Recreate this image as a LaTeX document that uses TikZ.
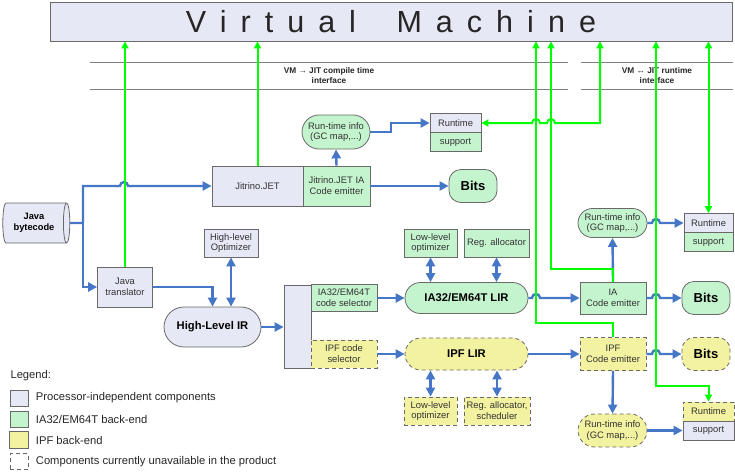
\documentclass[tikz,border=0pt]{standalone}
\usepackage{fontspec}
\setmainfont{Liberation Sans}
\usetikzlibrary{arrows.meta,shapes.geometric,shapes.misc,positioning}

\definecolor{pindep}{RGB}{230,232,245}
\definecolor{iaback}{RGB}{196,244,206}
\definecolor{ipfback}{RGB}{242,242,160}
\definecolor{edgegray}{RGB}{105,105,105}
\definecolor{flowblue}{RGB}{70,118,198}
\definecolor{vmgreen}{RGB}{0,255,0}

\tikzset{
    unit/.style={draw=edgegray, line width=0.8pt, inner sep=1pt, align=center,
        font=\fontsize{9.4}{10.8}\selectfont, text=black!80},
    wh/.style 2 args={minimum width=#1pt, minimum height=#2pt},
    indep/.style={unit, fill=pindep},
    iaunit/.style={unit, fill=iaback},
    ipfunit/.style={unit, fill=ipfback, dash pattern=on 4pt off 3pt},
    pill/.style={rounded rectangle},
    bigtext/.style={font=\fontsize{11.2}{13}\selectfont\bfseries, text=black},
    bitstext/.style={font=\fontsize{13}{15}\selectfont\bfseries, text=black, rounded corners=12pt},
    flow/.style={draw=flowblue, line width=2.4pt, -{Triangle[length=9pt,width=9pt]}},
    twoway/.style={flow, {Triangle[length=9pt,width=9pt]}-{Triangle[length=9pt,width=9pt]}},
    vmlink/.style={draw=vmgreen, line width=2pt, -{Triangle[length=7pt,width=7pt]}},
    vmboth/.style={vmlink, {Triangle[length=7pt,width=7pt]}-{Triangle[length=7pt,width=7pt]}},
    iface/.style={draw=gray, line width=0.8pt},
    ifacetext/.style={font=\fontsize{8.3}{10}\selectfont\bfseries, align=center, text=black!85},
    legtext/.style={font=\fontsize{11.2}{13}\selectfont, text=black!85},
}

\begin{document}
\begin{tikzpicture}[x=1pt, y=-1pt]
    \useasboundingbox (0,0) rectangle (735,471);

    % virtual machine and the two interfaces
    \node[indep, wh={682}{39}, text=black!85,
        font=\fontsize{30.5}{32}\selectfont\addfontfeatures{LetterSpace=46}] (vm) at (391,21.5) {Virtual\hspace{18pt} Machine};
    \draw[iface] (90,62) -- (568,62);
    \draw[iface] (90,89) -- (568,89);
    \draw[iface] (581,62) -- (733,62);
    \draw[iface] (581,89) -- (733,89);
    \node[ifacetext] (compiletime) at (329,75.5) {VM → JIT compile time\\interface};
    \node[ifacetext] (runtimeif) at (657,75.5) {VM ↔ JIT runtime\\interface};

    % front end
    \node[cylinder, draw=edgegray, line width=0.8pt, fill=pindep, aspect=0.3, shape border rotate=0,
        minimum width=40pt, minimum height=67pt, align=center, inner sep=1pt,
        font=\fontsize{9.3}{11}\selectfont\bfseries] (bytecode) at (34,223) {Java\\bytecode};
    \node[indep, wh={55}{40}] (jtrans) at (125,287) {Java\\translator};
    \node[indep, wh={54}{28}] (hlopt) at (231,243) {High-level\\Optimizer};
    \node[indep, pill, bigtext, wh={99}{40}] (hlir) at (212.5,327) {High-Level IR};

    % Jitrino.JET
    \node[indep, wh={91}{40}] (jet) at (257.5,186) {Jitrino.JET};
    \node[iaunit, wh={67}{40}] (jetemit) at (336.5,186) {Jitrino.JET IA\\Code emitter};
    \node[iaunit, pill, wh={70}{34}] (jetinfo) at (336,132) {Run-time info\\(GC map,...)};
    \node[indep, wh={51}{19}] (jetrt) at (455.5,123) {Runtime};
    \node[iaunit, wh={51}{19}] (jetsup) at (455.5,142) {support};
    \node[iaunit, bitstext, wh={48}{33}] (jetbits) at (473,186) {Bits};

    % code selectors
    \node[indep, wh={27}{83}] (sel) at (297.5,326.5) {};
    \node[iaunit, wh={66}{27}] (iasel) at (344,298) {IA32/EM64T\\code selector};
    \node[ipfunit, wh={66}{28}] (ipfsel) at (344,354) {IPF code\\selector};

    % IA32/EM64T back-end
    \node[iaunit, pill, bigtext, wh={125}{31}] (ialir) at (466.5,298) {IA32/EM64T LIR};
    \node[iaunit, wh={53}{28}] (llopt) at (430.5,243) {Low-level\\optimizer};
    \node[iaunit, wh={65}{28}] (regall) at (496.5,243) {Reg. allocator};
    \node[iaunit, wh={66}{32}] (iaemit) at (613,298) {IA\\Code emitter};
    \node[iaunit, bitstext, wh={48}{33}] (iabits) at (706,298) {Bits};
    \node[iaunit, pill, wh={71}{29}] (iainfo) at (612.5,223) {Run-time info\\(GC map,...)};
    \node[indep, wh={49}{19}] (iart) at (708.5,223) {Runtime};
    \node[iaunit, wh={49}{19}] (iasup) at (708.5,242) {support};

    % IPF back-end
    \node[ipfunit, pill, bigtext, wh={125}{32}] (ipflir) at (466.5,354) {IPF LIR};
    \node[ipfunit, wh={53}{28}] (ipfllopt) at (430.5,411) {Low-level\\optimizer};
    \node[ipfunit, wh={66}{28}] (ipfregall) at (497,411) {Reg. allocator,\\scheduler};
    \node[ipfunit, wh={66}{33}] (ipfemit) at (613,354) {IPF\\Code emitter};
    \node[ipfunit, bitstext, wh={48}{33}] (ipfbits) at (706,354) {Bits};
    \node[ipfunit, pill, wh={71}{33}] (ipfinfo) at (612.5,430.5) {Run-time info\\(GC map,...)};
    \node[ipfunit, wh={51}{19}] (ipfrt) at (708.5,411.5) {Runtime};
    \node[indep, wh={51}{19}] (ipfsup) at (708.5,430.5) {support};

    % blue data flow
    \coordinate (fork) at (83,223);
    \draw[flow, -] (bytecode.east) -- (fork);
    \draw[flow] (fork) |- (jtrans.west);
    \draw[flow] (fork) -- (83,186) -- (120,186) arc[start angle=180, end angle=0, radius=4pt] -- (jet.west);
    \draw[flow] (jtrans.east) -| (hlir.north);
    \draw[twoway] (hlopt.south) -- (hlopt.south |- hlir.north);
    \draw[flow] (hlir.east) -- (hlir.east -| sel.west);
    \draw[flow] (jetemit.north) -- (jetinfo.south);
    \draw[flow] (jetemit.east) -- (jetbits.west);
    \draw[flow] (jetinfo.east) -- (391,132) -- (391,123) -- (jetrt.west);
    \draw[flow] (iasel.east) -- (ialir.west);
    \draw[flow] (ipfsel.east) -- (ipflir.west);
    \draw[twoway] (llopt.south) -- (llopt.south |- ialir.north);
    \draw[twoway] (regall.south) -- (regall.south |- ialir.north);
    \draw[twoway] (ipfllopt.north) -- (ipfllopt.north |- ipflir.south);
    \draw[twoway] (ipfregall.north) -- (ipfregall.north |- ipflir.south);
    \draw[flow] (ialir.east) -- (532,298) arc[start angle=180, end angle=0, radius=4pt] -- (iaemit.west);
    \draw[flow] (ipflir.east) -- (ipfemit.west);
    \draw[flow] (iaemit.north) -- (iainfo.south);
    \draw[flow] (ipfemit.south) -- (ipfinfo.north);
    \draw[flow] (iainfo.east) -- (652,223) arc[start angle=180, end angle=0, radius=4pt] -- (iart.west);
    \draw[flow] (iaemit.east) -- (652,298) arc[start angle=180, end angle=0, radius=4pt] -- (iabits.west);
    \draw[flow] (ipfemit.east) -- (652,354) arc[start angle=180, end angle=0, radius=4pt] -- (ipfbits.west);
    \draw[flow] (ipfinfo.east) -- (ipfsup.west);

    % green links to the VM
    \draw[vmlink] (jtrans.north) -- (jtrans.north |- vm.south);
    \draw[vmlink] (jet.north) -- (jet.north |- vm.south);
    \draw[vmlink] (ipfemit.north) -- (613,323) -- (536,323) -- (536,0 |- vm.south);
    \draw[vmlink] (iaemit.north) -- (613,269) -- (551,269) -- (551,0 |- vm.south);
    \draw[vmboth] (600,0 |- vm.south) -- (600,123) -- (555,123) arc[start angle=0, end angle=180, radius=4pt]
        -- (540,123) arc[start angle=0, end angle=180, radius=4pt] -- (jetrt.east);
    \draw[vmboth] (656,0 |- vm.south) -- (656,386) -| (ipfrt.north);
    \draw[vmboth] (iart.north |- vm.south) -- (iart.north);

    % legend
    \node[anchor=west, legtext] (legend) at (7,376) {Legend:};
    \node[indep, wh={18}{16}] (legind) at (19,398) {};
    \node[iaunit, wh={18}{16}] (legia) at (19,419) {};
    \node[ipfunit, wh={18}{16}, fill=none] (legipf) at (19,440) {};
    \node[unit, wh={18}{16}, dash pattern=on 4pt off 3pt] (legna) at (19,461.5) {};
    \fill[ipfback] (legipf.south west) rectangle (legipf.north east);
    \draw[edgegray, line width=0.8pt] (legipf.south west) rectangle (legipf.north east);
    \node[right=4pt of legind, legtext] (legindtext) {Processor-independent components};
    \node[right=4pt of legia, legtext] (legiatext) {IA32/EM64T back-end};
    \node[right=4pt of legipf, legtext] (legipftext) {IPF back-end};
    \node[right=4pt of legna, legtext] (legnatext) {Components currently unavailable in the product};
\end{tikzpicture}
\end{document}
